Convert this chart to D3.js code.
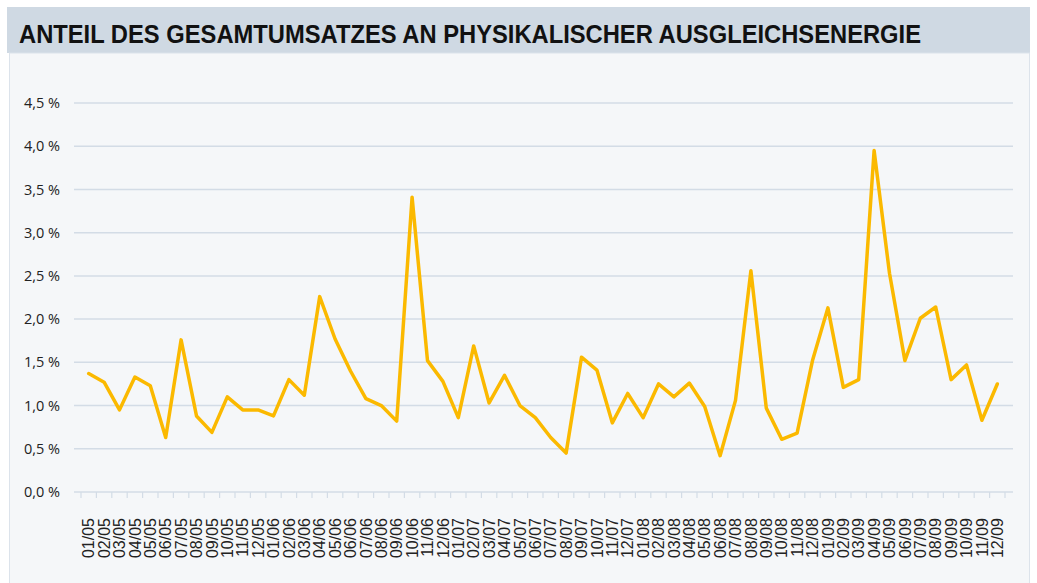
<!DOCTYPE html>
<html>
<head>
<meta charset="utf-8">
<script src="https://cdn.jsdelivr.net/npm/d3@7/dist/d3.min.js"></script>
<style>
  html, body { margin: 0; padding: 0; background: #ffffff; }
  svg { display: block; }
</style>
</head>
<body>
<svg id="chart" width="1037" height="583"></svg>
<script>
// Monthly share of total turnover attributable to physical balancing energy (%)
const months = [
  "01/05","02/05","03/05","04/05","05/05","06/05","07/05","08/05","09/05","10/05","11/05","12/05",
  "01/06","02/06","03/06","04/06","05/06","06/06","07/06","08/06","09/06","10/06","11/06","12/06",
  "01/07","02/07","03/07","04/07","05/07","06/07","07/07","08/07","09/07","10/07","11/07","12/07",
  "01/08","02/08","03/08","04/08","05/08","06/08","07/08","08/08","09/08","10/08","11/08","12/08",
  "01/09","02/09","03/09","04/09","05/09","06/09","07/09","08/09","09/09","10/09","11/09","12/09"
];
const shareValues = [
  1.37, 1.27, 0.95, 1.33, 1.23, 0.63, 1.76, 0.88, 0.69, 1.10, 0.95, 0.95,
  0.88, 1.30, 1.12, 2.26, 1.77, 1.40, 1.08, 1.00, 0.82, 3.41, 1.52, 1.28,
  0.86, 1.69, 1.03, 1.35, 1.00, 0.86, 0.63, 0.45, 1.56, 1.41, 0.80, 1.14,
  0.86, 1.25, 1.10, 1.26, 0.99, 0.42, 1.06, 2.56, 0.97, 0.61, 0.68, 1.52,
  2.13, 1.21, 1.30, 3.95, 2.53, 1.52, 2.01, 2.14, 1.30, 1.47, 0.83, 1.25
];
const yTicks = [0, 0.5, 1.0, 1.5, 2.0, 2.5, 3.0, 3.5, 4.0, 4.5];
const titleText = "ANTEIL DES GESAMTUMSATZES AN PHYSIKALISCHER AUSGLEICHSENERGIE";

const svg = d3.select("#chart");

// Header band and chart panel
svg.append("rect")
  .attr("x", 7).attr("y", 7).attr("width", 1023).attr("height", 46)
  .attr("fill", "#cfd9e3");
svg.append("rect")
  .attr("x", 9.5).attr("y", 53).attr("width", 1020).attr("height", 540)
  .attr("fill", "#f5f7f9").attr("stroke", "#dce3eb").attr("stroke-width", 1);

// Condensed bold headline, fitted to the header width
svg.append("text")
  .attr("x", 19).attr("y", 42.5)
  .attr("font-family", "'Liberation Sans', Arial, sans-serif")
  .attr("font-weight", "bold")
  .attr("font-size", 25)
  .attr("fill", "#111111")
  .attr("textLength", 902)
  .attr("lengthAdjust", "spacingAndGlyphs")
  .text(titleText);

// Scales
const gridLeft = 74, gridRight = 1013;
const x = d3.scaleBand().domain(months).range([81, 1005]);
const y = d3.scaleLinear().domain([0, 4.5]).range([492, 103]);

// Horizontal gridlines
svg.append("g")
  .selectAll("line")
  .data(yTicks.filter(d => d > 0))
  .join("line")
  .attr("x1", gridLeft).attr("x2", gridRight)
  .attr("y1", d => y(d)).attr("y2", d => y(d))
  .attr("stroke", "#d3dce6").attr("stroke-width", 1.5);

// Y axis labels
const fmt = d => d.toFixed(1).replace(".", ",") + " %";
svg.append("g")
  .selectAll("text")
  .data(yTicks)
  .join("text")
  .attr("x", 60)
  .attr("y", d => y(d))
  .attr("dy", "0.35em")
  .attr("text-anchor", "end")
  .attr("font-family", "'Open Sans', sans-serif")
  .attr("font-size", 14.5)
  .attr("fill", "#222222")
  .text(fmt);

// X axis: baseline, boundary ticks and rotated month labels
const xAxis = svg.append("g");
xAxis.append("line")
  .attr("x1", gridLeft).attr("x2", gridRight)
  .attr("y1", y(0)).attr("y2", y(0))
  .attr("stroke", "#d3dce6").attr("stroke-width", 1.5);
const boundaries = months.map(m => x(m)).concat([x(months[months.length - 1]) + x.bandwidth()]);
xAxis.selectAll("line.tick")
  .data(boundaries)
  .join("line")
  .attr("class", "tick")
  .attr("x1", d => d).attr("x2", d => d)
  .attr("y1", y(0)).attr("y2", y(0) + 6)
  .attr("stroke", "#d3dce6").attr("stroke-width", 1.2);
xAxis.selectAll("text")
  .data(months)
  .join("text")
  .attr("transform", d => `translate(${x(d) + x.bandwidth() / 2},518) rotate(-90)`)
  .attr("text-anchor", "end")
  .attr("dy", "0.35em")
  .attr("font-family", "'Liberation Sans', Arial, sans-serif")
  .attr("font-size", 16)
  .attr("fill", "#222222")
  .text(d => d);

// Data line
const line = d3.line()
  .x((d, i) => x(months[i]) + x.bandwidth() / 2)
  .y(d => y(d));
svg.append("path")
  .datum(shareValues)
  .attr("d", line)
  .attr("fill", "none")
  .attr("stroke", "#fbb900")
  .attr("stroke-width", 3.5)
  .attr("stroke-linejoin", "round")
  .attr("stroke-linecap", "round");
</script>
</body>
</html>
